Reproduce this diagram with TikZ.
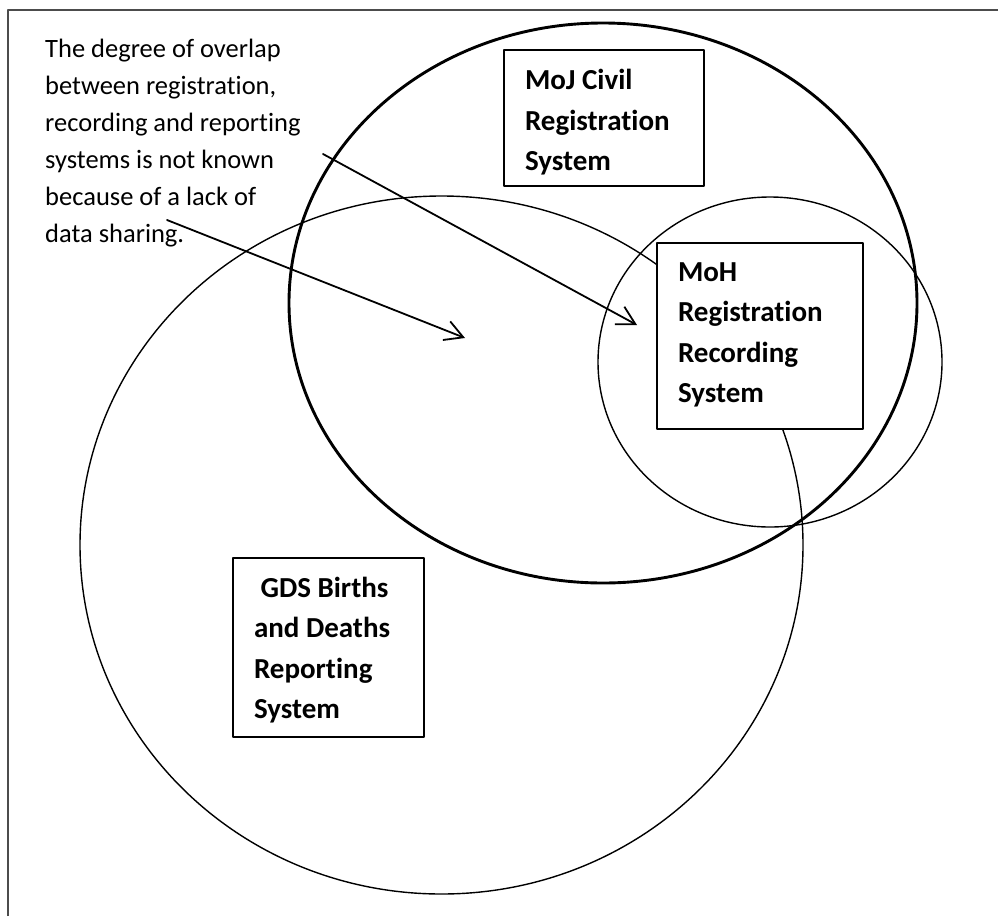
\documentclass[tikz,border=0pt]{standalone}
\usepackage{fontspec}
\setmainfont{Carlito}[Ligatures=NoCommon]
\usetikzlibrary{arrows.meta}
\begin{document}
\begin{tikzpicture}[x=1pt,y=-1pt,line join=round,line cap=round,
  >={Straight Barb[length=18pt,width=20pt]},
  note/.style={inner sep=0pt,align=flush left,text width=320pt,anchor=base west,font=\fontsize{26.5}{37}\selectfont},
  sysbox/.style={draw,line width=2pt,fill=white,inner xsep=21pt,inner ysep=0pt,align=flush left,anchor=base west,font=\fontsize{29}{40.5}\selectfont\bfseries},
  venn/.style={line width=1.4pt}]
\useasboundingbox (0,0) rectangle (998,916);
\draw[line width=2pt,black!70,line cap=butt] (7.5,916) |- (998,9.5);
% the three systems
\draw[venn] (441.5,545) ellipse (361.5 and 349);
\draw[venn,line width=2.9pt] (603,303) ellipse (314 and 280);
\draw[venn] (770,362) ellipse (172 and 165);
\node[sysbox,text width=158pt,text height=39.5pt,text depth=96.5pt] (moj) at (503,89.5) {MoJ Civil\\Registration\\System};
\node[sysbox,text width=164pt,text height=38pt,text depth=148pt] (moh) at (656,281) {MoH\\Registration\\Recording\\System};
\node[sysbox,text width=149pt,text height=39pt,text depth=140pt] (gds) at (232,597) {\ GDS Births\\and Deaths\\Reporting\\System};
% the note and its arrows
\node[note] (note) at (45,57.5) {The degree of overlap\\between registration,\\recording and reporting\\systems is not known\\because of a lack of\\data sharing.};
\coordinate (tail1) at (167,220);
\coordinate (tail2) at (323,154);
\coordinate (overlap) at (465,338);
\coordinate (mohside) at (637,325);
\draw[->,line width=1.8pt] (tail1) -- (overlap);
\draw[->,line width=1.8pt] (tail2) -- (mohside);
\end{tikzpicture}
\end{document}
